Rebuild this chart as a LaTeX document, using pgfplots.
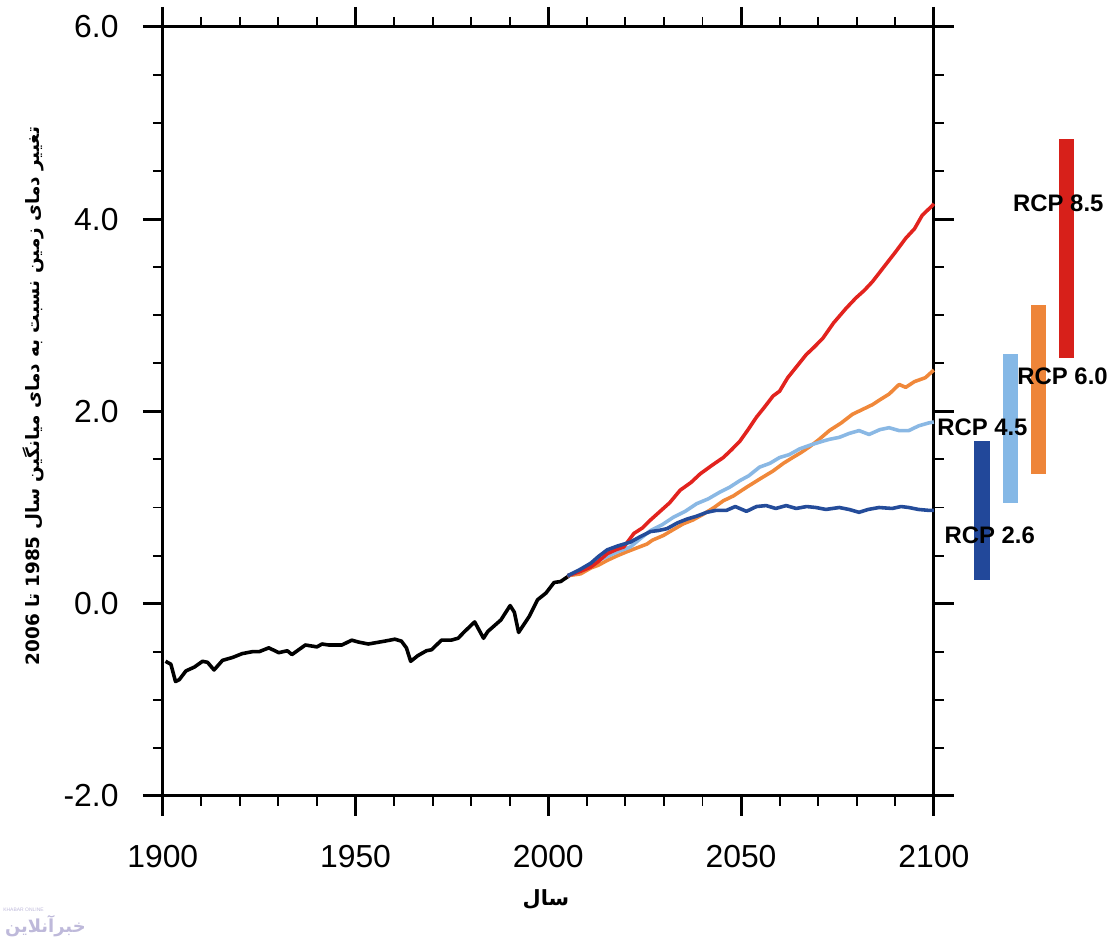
\documentclass[border=0pt]{standalone}
\usepackage{fontspec}
\setmainfont{Liberation Sans}
\newfontfamily\fa[Script=Arabic]{DejaVu Sans}
\TeXXeTstate=1
\usepackage{pgfplots}
\pgfplotsset{compat=1.18}
\definecolor{cred}{RGB}{226,35,30}
\definecolor{corange}{RGB}{240,136,58}
\definecolor{clblue}{RGB}{138,184,228}
\definecolor{cdblue}{RGB}{36,76,154}
\definecolor{bred}{RGB}{215,32,26}
\definecolor{borange}{RGB}{238,133,57}
\definecolor{blblue}{RGB}{133,184,230}
\definecolor{bdblue}{RGB}{34,72,154}
\definecolor{wm}{RGB}{190,185,218}
\begin{document}
\begin{tikzpicture}
\begin{axis}[
  at={(160pt,152pt)}, anchor=south west,
  width=775pt, height=773pt, scale only axis,
  xmin=1900, xmax=2100, ymin=-2, ymax=6,
  clip=false,
  xtick={1900,1950,2000,2050,2100},
  xticklabels={1900,1950,2000,2050,2100},
  ytick={-2,0,2,4,6},
  yticklabels={-2.0,0.0,2.0,4.0,6.0},
  minor x tick num=4, minor y tick num=3,
  tick align=outside,
  major tick length=20pt, minor tick length=10pt,
  axis line style={line width=3pt},
  every major tick/.style={black, line width=3pt},
  every minor tick/.style={black, line width=2pt},
  tick label style={font=\fontsize{32}{38}\selectfont},
  xticklabel style={yshift=-26pt},
  yticklabel style={xshift=-21pt},
  xlabel={\fa\bfseries\beginR سال\endR},
  ylabel={\fa\bfseries\beginR تغییر دمای زمین نسبت به دمای میانگین سال \beginL1985\endL{} تا \beginL2006\endL\endR},
  xlabel style={font=\fontsize{21}{24}\selectfont, at={(axis description cs:0.497,-0.135)}, anchor=center},
  ylabel style={font=\fontsize{18.5}{22}\selectfont, at={(axis description cs:-0.168,0.52)}, anchor=center},
]
% historical
\addplot[black, line width=3.6pt, line join=round] coordinates {
(1900.7,-0.60) (1902.1,-0.63) (1903.3,-0.81) (1904.3,-0.79) (1906,-0.70) (1908.2,-0.66)
(1910.3,-0.60) (1911.6,-0.61) (1913.3,-0.69) (1915.5,-0.59) (1918.1,-0.56) (1920.6,-0.52)
(1923.2,-0.50) (1925,-0.50) (1927.5,-0.46) (1930.1,-0.51) (1932.3,-0.49) (1933.5,-0.53)
(1937,-0.43) (1940,-0.45) (1941.3,-0.42) (1943,-0.43) (1946.5,-0.43) (1949,-0.38)
(1950.8,-0.40) (1953.3,-0.42) (1957.6,-0.39) (1960.2,-0.37) (1961.9,-0.39) (1963.2,-0.46)
(1964.3,-0.60) (1966.2,-0.54) (1968.4,-0.49) (1969.7,-0.48) (1972.3,-0.38) (1974.8,-0.38)
(1976.6,-0.36) (1978.3,-0.29) (1980.9,-0.19) (1983.2,-0.36) (1984.3,-0.29) (1987.7,-0.17)
(1990.1,-0.02) (1991.2,-0.09) (1992.3,-0.30) (1995.1,-0.13) (1997.2,0.04) (1999.4,0.11)
(2001.5,0.22) (2003.2,0.23) (2005.4,0.29)
};
% RCP 6.0
\addplot[corange, line width=3.6pt, line join=round] coordinates {
(2005,0.29) (2008.4,0.31) (2011,0.37) (2013,0.40) (2015.3,0.45) (2018,0.50) (2020.4,0.54)
(2023,0.58) (2025.6,0.62) (2027,0.66) (2029.9,0.71) (2032,0.76) (2035,0.83) (2037.5,0.87)
(2040.2,0.93) (2043,1.00) (2045.4,1.07) (2048,1.12) (2051.4,1.21) (2055,1.30) (2058.3,1.38)
(2061,1.46) (2063.4,1.52) (2065.5,1.57) (2067.7,1.63) (2070,1.70) (2072.9,1.80) (2076,1.88)
(2078.9,1.97) (2081.5,2.02) (2084.1,2.07) (2086,2.12) (2088.4,2.18) (2091,2.28) (2092.7,2.25)
(2095,2.31) (2097.8,2.35) (2100,2.43)
};
% RCP 4.5
\addplot[clblue, line width=3.6pt, line join=round] coordinates {
(2005,0.29) (2008,0.33) (2011,0.40) (2013,0.45) (2015.3,0.49) (2018,0.54) (2021.3,0.59)
(2024,0.68) (2026.5,0.76) (2029.5,0.82) (2032.5,0.90) (2035.5,0.96) (2038.5,1.04) (2041.5,1.09)
(2044.5,1.16) (2047,1.21) (2049.7,1.28) (2052,1.33) (2054.8,1.42) (2057.5,1.46) (2060,1.52)
(2062.5,1.55) (2065.2,1.61) (2068,1.65) (2071.2,1.69) (2073,1.71) (2075.5,1.73) (2078,1.77)
(2080.6,1.80) (2083.2,1.76) (2086,1.81) (2088.4,1.83) (2091,1.80) (2093.5,1.80) (2096.1,1.85)
(2098.7,1.88) (2100,1.89)
};
% RCP 8.5
\addplot[cred, line width=3.6pt, line join=round] coordinates {
(2005,0.29) (2008,0.33) (2011,0.38) (2013,0.44) (2015.3,0.52) (2017.5,0.56) (2019.6,0.59)
(2022.2,0.73) (2024.5,0.79) (2026.5,0.87) (2029,0.96) (2031.5,1.05) (2034.2,1.18) (2037,1.26)
(2039.4,1.35) (2042.5,1.44) (2045.4,1.52) (2047.5,1.60) (2049.7,1.69) (2052,1.82) (2054,1.94)
(2056,2.04) (2058.3,2.16) (2060,2.21) (2062.1,2.35) (2064.5,2.47) (2066.9,2.59) (2069,2.67)
(2071.2,2.76) (2074,2.92) (2077.2,3.07) (2079.8,3.18) (2082,3.26) (2084.1,3.35) (2087,3.50)
(2090.1,3.66) (2092.7,3.80) (2095,3.90) (2097,4.04) (2099.6,4.14) (2100,4.16)
};
% RCP 2.6
\addplot[cdblue, line width=3.6pt, line join=round] coordinates {
(2005,0.29) (2008,0.35) (2011,0.42) (2013,0.49) (2015.3,0.56) (2018,0.60) (2021.3,0.64)
(2024,0.70) (2026.5,0.75) (2028.5,0.76) (2030.8,0.78) (2033.5,0.84) (2036,0.88) (2038.5,0.91)
(2041.1,0.95) (2043.5,0.97) (2046.2,0.97) (2048.5,1.01) (2051.4,0.96) (2054,1.01) (2056.5,1.02)
(2059,0.99) (2061.7,1.02) (2064.3,0.99) (2067,1.01) (2069.4,1.00) (2072,0.98) (2075.5,1.00)
(2078,0.98) (2080.6,0.95) (2083,0.98) (2085.8,1.00) (2089.2,0.99) (2091.5,1.01) (2093.5,1.00)
(2096,0.98) (2098.7,0.97) (2100,0.97)
};
% range bars 2081-2100
\addplot[bdblue, line width=15.3pt, line cap=butt] coordinates {(2112.5,0.25) (2112.5,1.69)};
\addplot[blblue, line width=15.3pt, line cap=butt] coordinates {(2119.8,1.05) (2119.8,2.60)};
\addplot[borange, line width=15.3pt, line cap=butt] coordinates {(2127.1,1.35) (2127.1,3.11)};
\addplot[bred, line width=15.3pt, line cap=butt] coordinates {(2134.5,2.56) (2134.5,4.83)};
\node[font=\bfseries\fontsize{24}{28}\selectfont] at (axis cs:2132.3,4.16) {RCP 8.5};
\node[font=\bfseries\fontsize{24}{28}\selectfont] at (axis cs:2133.4,2.37) {RCP 6.0};
\node[font=\bfseries\fontsize{24}{28}\selectfont] at (axis cs:2112.6,1.83) {RCP 4.5};
\node[font=\bfseries\fontsize{24}{28}\selectfont] at (axis cs:2114.5,0.71) {RCP 2.6};
\end{axis}
\node[wm, font=\fontsize{5}{6}\selectfont] at (20pt,38pt) {KHABAR ONLINE};
\node[wm, font=\fa\bfseries\fontsize{18}{20}\selectfont] at (42pt,21pt) {\beginR خبرآنلاین\endR};
\path[use as bounding box] (0,0) rectangle (1111pt,952pt);
\end{tikzpicture}
\end{document}
